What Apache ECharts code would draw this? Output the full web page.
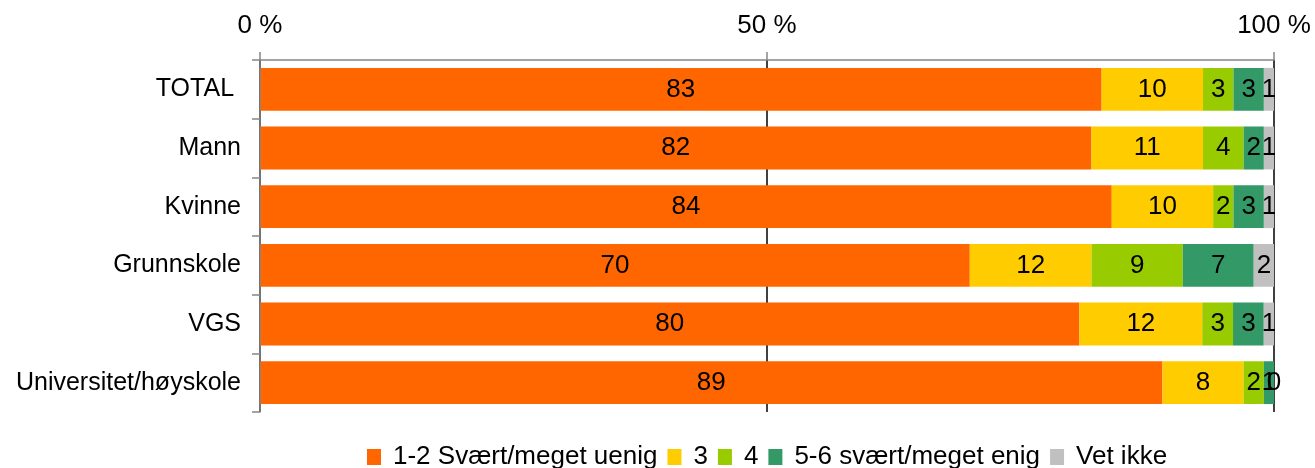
<!DOCTYPE html>
<html>
<head>
<meta charset="utf-8">
<script src="https://cdn.jsdelivr.net/npm/echarts@6/dist/echarts.min.js"></script>
<style>
  html, body { margin: 0; padding: 0; background: #fff; }
  #chart { width: 1315px; height: 468px; }
</style>
</head>
<body>
<div id="chart"></div>
<script>
// categories, top to bottom
const categories = ['TOTAL ', 'Mann', 'Kvinne', 'Grunnskole', 'VGS', 'Universitet/høyskole'];

// answer shares as printed in the bars (each row drawn as 100 % stacked)
const uenig = [83, 82, 84, 70, 80, 89];
const tre = [10, 11, 10, 12, 12, 8];
const fire = [3, 4, 2, 9, 3, 2];
const enig = [3, 2, 3, 7, 3, 1];
const vetIkke = [1, 1, 1, 2, 1, 0];

const seriesNames = ['1-2 Svært/meget uenig', '3', '4', '5-6 svært/meget enig', 'Vet ikke'];
const seriesValues = [uenig, tre, fire, enig, vetIkke];
const seriesColors = ['#ff6600', '#ffcc00', '#99cc00', '#339966', '#c0c0c0'];

const xTicks = [0, 50, 100];

const FONT = '"Liberation Sans", Arial, sans-serif';

const rowSums = categories.map((_, i) => seriesValues.reduce((s, arr) => s + arr[i], 0));

const chart = echarts.init(document.getElementById('chart'));

const series = seriesNames.map((name, k) => ({
  name,
  type: 'bar',
  stack: 'total',
  barCategoryGap: '27%',
  itemStyle: { color: seriesColors[k] },
  label: {
    show: true,
    position: 'inside',
    color: '#000',
    fontSize: 26,
    fontFamily: FONT,
    formatter: (p) => String(seriesValues[k][p.dataIndex])
  },
  emphasis: { disabled: true },
  data: seriesValues[k].map((v, i) => (v / rowSums[i]) * 100)
}));

const option = {
  animation: false,
  legend: {
    data: seriesNames,
    top: 439,
    left: 362,
    itemWidth: 14,
    itemHeight: 16,
    itemGap: 10,
    icon: 'rect',
    textStyle: { fontSize: 26, fontFamily: FONT, color: '#000', padding: [0, 0, 0, 7] }
  },
  grid: {
    left: 260,
    right: 41,
    top: 60,
    bottom: 56
  },
  xAxis: {
    type: 'value',
    position: 'top',
    min: xTicks[0],
    max: xTicks[xTicks.length - 1],
    interval: 50,
    axisLine: { show: true, lineStyle: { color: '#868686', width: 1.5 } },
    axisTick: { show: true, length: 8, lineStyle: { color: '#868686', width: 1.5 } },
    axisLabel: {
      formatter: '{value} %',
      fontSize: 26,
      fontFamily: FONT,
      color: '#000',
      margin: 21
    },
    splitLine: { show: true, lineStyle: { color: '#000', width: 1.5 } }
  },
  yAxis: {
    type: 'category',
    inverse: true,
    data: categories,
    z: 5,
    axisLine: { show: true, lineStyle: { color: '#868686', width: 1.5 } },
    axisTick: { show: true, length: 8, lineStyle: { color: '#868686', width: 1.5 } },
    axisLabel: {
      fontSize: 25,
      fontFamily: FONT,
      color: '#000',
      margin: 19
    }
  },
  series
};

chart.setOption(option);
</script>
</body>
</html>
